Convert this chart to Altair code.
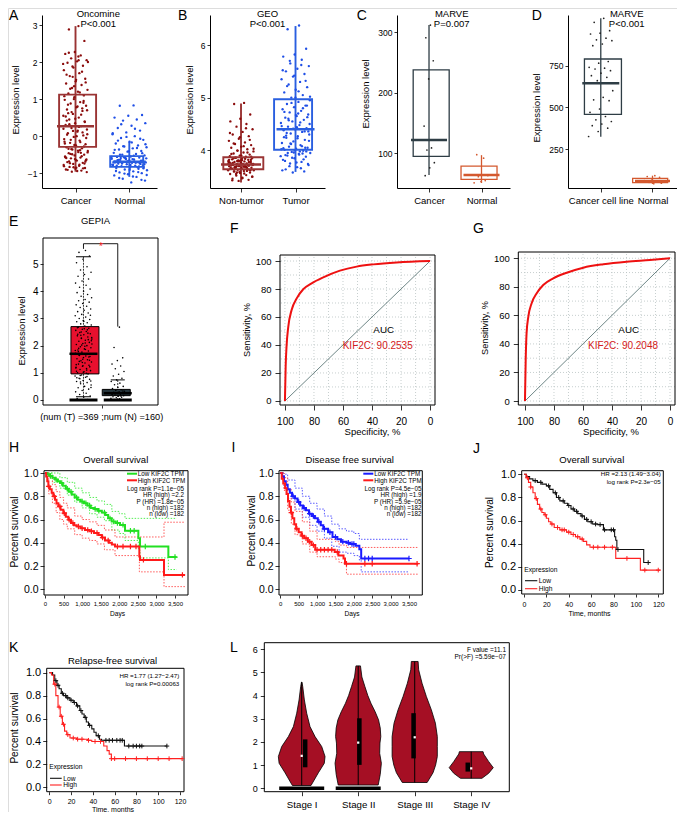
import altair as alt
import pandas as pd

OFF = 8
W, H = 669, 804
FONT = "Liberation Sans"

# ================= DATA =================
# --- A: Oncomine ---
A_groups = ["Cancer", "Normal"]
A_q1 = [-0.29, -0.83]
A_med = [0.27, -0.69]
A_q3 = [1.12, -0.54]
A_lo = [-0.96, -1.10]
A_hi = [2.97, -0.15]
A_cancer = [2.97, 2.88, 2.57, 2.27, 2.22, 2.18, 2.1, 2.05, 2.02, 1.98, 1.9, 1.85, 1.78, 1.7, 1.62,
            1.55, 1.48, 1.42, 1.38, 1.3, 1.25, 1.2, 1.15, 1.1, 1.05, 0.98, 0.92, 0.88, 0.82, 0.78,
            0.72, 0.68, 0.6, 0.55, 0.5, 0.45, 0.4, 0.35, 0.3, 0.27, 0.22, 0.18, 0.12, 0.08, 0.02,
            -0.02, -0.08, -0.12, -0.18, -0.22, -0.25, -0.3, -0.33, -0.36, -0.4, -0.43, -0.46, -0.5,
            -0.52, -0.55, -0.58, -0.6, -0.63, -0.66, -0.7, -0.72, -0.75, -0.78, -0.8, -0.83, -0.86,
            -0.88, -0.9, -0.93, -0.96, 0.05, 0.15, 0.62, 0.95, 1.35, -0.15, -0.38, -0.48, -0.65,
            -0.85, 0.42, 0.75, 1.6, 1.95, 2.05, -0.68, -0.74, -0.62, -0.57, -0.45, -0.35,
            -0.97, -0.94, -0.91, -0.87, -0.84, -0.81, -0.77, -0.73, -0.69, -0.64, -0.59, -0.54,
            -0.49, -0.44, -0.39, -0.34, -0.28, -0.24, -0.2, -0.16, -0.1, -0.05, 0.0, 0.04, 0.1,
            0.14, 0.2, 0.25, 0.32, 0.38, 0.47, 0.53, 0.58, 0.65, 0.7, 0.8, 0.85, 0.9, 1.0, 1.08,
            1.18, 1.28, 1.45, 1.52, 1.66, 1.74, 1.88, 2.0, 2.15, 2.25]
A_normal = [0.83, 0.82, 0.57, 0.55, 0.5, 0.45, 0.42, 0.35, 0.28, 0.22, 0.15, 0.1, 0.05, 0.0, -0.05,
            -0.1, -0.15, -0.2, -0.25, -0.28, -0.3, -0.33, -0.36, -0.4, -0.42, -0.45, -0.48, -0.5,
            -0.52, -0.55, -0.56, -0.58, -0.6, -0.61, -0.63, -0.64, -0.66, -0.67, -0.68, -0.7, -0.7,
            -0.71, -0.72, -0.74, -0.75, -0.76, -0.78, -0.8, -0.81, -0.83, -0.85, -0.86, -0.88, -0.9,
            -0.92, -0.95, -0.98, -1.0, -1.03, -1.06, -1.1, -1.15, -1.2, -1.25, -0.65, -0.73, -0.62,
            -0.77, -0.69, -0.59, -0.79, -0.66, -0.71, -0.84, -0.57,
            -0.6, -0.62, -0.64, -0.66, -0.68, -0.7, -0.72, -0.74, -0.76, -0.78, -0.8, -0.82, -0.58,
            -0.56, -0.53, -0.5, -0.46, -0.41, -0.37, -0.32, -0.27, -0.22, -0.17, -0.12, -0.07,
            -0.02, 0.08, 0.2, 0.32, -0.87, -0.91, -0.94, -0.97, -1.01, -1.05, -1.09, -1.13, -1.18,
            -0.69, -0.71]

# --- B: GEO ---
B_groups = ["Non-tumor", "Tumor"]
B_q1 = [3.64, 4.01]
B_med = [3.73, 4.40]
B_q3 = [3.87, 4.97]
B_lo = [3.39, 3.59]
B_hi = [4.89, 6.36]
B_nontumor = [4.9, 4.88, 4.68, 4.6, 4.55, 4.5, 4.45, 4.4, 4.35, 4.3, 4.27, 4.22, 4.18, 4.15, 4.12,
              4.1, 4.07, 4.05, 4.02, 4.0, 3.98, 3.96, 3.94, 3.92, 3.9, 3.89, 3.88, 3.86, 3.85, 3.84,
              3.83, 3.82, 3.81, 3.8, 3.79, 3.78, 3.77, 3.76, 3.75, 3.75, 3.74, 3.73, 3.73, 3.72, 3.71,
              3.7, 3.7, 3.69, 3.68, 3.67, 3.66, 3.65, 3.64, 3.63, 3.62, 3.61, 3.6, 3.58, 3.57, 3.55,
              3.53, 3.52, 3.5, 3.48, 3.46, 3.44, 3.42, 3.78, 3.72, 3.68, 3.82, 3.76, 3.71, 3.66, 3.8,
              3.74, 3.69, 3.85, 3.63, 3.59, 3.77, 3.7, 3.67, 3.74, 3.81, 3.65, 3.72, 3.79, 3.62, 3.56,
              3.6, 3.62, 3.64, 3.66, 3.68, 3.7, 3.72, 3.74, 3.76, 3.78, 3.8, 3.82, 3.84, 3.86, 3.88,
              3.9, 3.93, 3.96, 3.99, 4.03, 4.08, 4.13, 4.2, 4.25, 4.33, 4.42, 3.55, 3.5, 3.47, 3.43,
              3.71, 3.73, 3.75, 3.69, 3.67, 3.79, 3.81, 3.65, 3.61, 3.58]
B_tumor = [6.37, 6.3, 5.93, 5.82, 5.78, 5.72, 5.65, 5.6, 5.55, 5.5, 5.45, 5.4, 5.35, 5.3, 5.25, 5.2,
           5.15, 5.1, 5.05, 5.0, 4.95, 4.92, 4.88, 4.85, 4.82, 4.78, 4.75, 4.72, 4.68, 4.65, 4.62,
           4.58, 4.55, 4.52, 4.48, 4.45, 4.42, 4.4, 4.38, 4.35, 4.32, 4.3, 4.27, 4.24, 4.2, 4.17,
           4.14, 4.1, 4.07, 4.05, 4.03, 4.01, 3.99, 3.97, 3.95, 3.93, 3.9, 3.88, 3.85, 3.82, 3.78,
           3.75, 3.72, 3.68, 3.64, 3.6, 3.58, 4.02, 3.98, 4.6, 4.85, 5.0, 4.25, 3.94, 4.12, 4.5,
           4.7, 4.33, 4.05, 3.96,
           3.62, 3.66, 3.7, 3.74, 3.77, 3.8, 3.83, 3.86, 3.89, 3.92, 3.95, 3.98, 4.0, 4.04, 4.08,
           4.13, 4.18, 4.23, 4.28, 4.36, 4.41, 4.46, 4.53, 4.57, 4.63, 4.67, 4.73, 4.8, 4.9, 5.02,
           5.12, 5.22, 5.32, 5.42, 5.52, 5.62, 5.7, 4.36, 4.44, 3.91]

# --- C: MARVE ---
C_groups = ["Cancer", "Normal"]
C_q1 = [95, 57]
C_med = [122, 64]
C_q3 = [238, 79]
C_lo = [64, 51]
C_hi = [312, 97]
C_cancer = [312, 291, 253, 223, 145, 109, 105.5, 84.5, 76, 63]
C_normal = [92, 97.7, 63.3, 53.4, 51.3, 55, 61.4]

# --- D: MARVE ---
D_groups = ["Cancer cell line", "Normal"]
D_q1 = [458, 48]
D_med = [644, 58]
D_q3 = [790, 74]
D_lo = [324, 40]
D_hi = [1034, 90]
D_cancer = [1034, 1010, 960, 945, 940, 915, 905, 900, 880, 870, 775, 765, 740, 735, 730, 720, 705,
            690, 680, 660, 600, 560, 545, 540, 490, 470, 445, 425, 415, 400, 390, 375, 355, 325]
D_normal = [90, 85, 80, 70, 60, 55, 50, 45, 42]

# --- E: GEPIA ---
E_q1 = [0.96, 0.16]
E_med = [1.70, 0.25]
E_q3 = [2.70, 0.39]
E_lo = [0.12, 0.0]
E_hi = [5.27, 0.74]
E_tumor = [5.5, 5.43, 5.3, 5.18, 5.05, 4.9, 4.78, 4.7, 4.62, 4.55, 4.45, 4.38, 4.3, 4.22, 4.15, 4.08,
           4.0, 3.95, 3.88, 3.82, 3.76, 3.7, 3.65, 3.6, 3.55, 3.5, 3.45, 3.4, 3.35, 3.3, 3.25, 3.2,
           3.15, 3.1, 3.05, 3.0, 2.96, 2.92, 2.88, 2.84, 2.8, 2.76, 2.72, 2.68, 2.64, 2.6, 2.56,
           2.52, 2.48, 2.44, 2.4, 2.36, 2.32, 2.28, 2.24, 2.2, 2.16, 2.12, 2.08, 2.04, 2.0, 1.96,
           1.92, 1.88, 1.84, 1.8, 1.76, 1.72, 1.68, 1.64, 1.6, 1.56, 1.52, 1.48, 1.44, 1.4, 1.36,
           1.32, 1.28, 1.24, 1.2, 1.16, 1.12, 1.08, 1.04, 1.0, 0.96, 0.92, 0.88, 0.84, 0.8, 0.76,
           0.72, 0.68, 0.64, 0.6, 0.55, 0.5, 0.45, 0.4, 0.35, 0.3, 0.25, 0.2, 0.15, 0.1, 0.05, 0.02,
           2.5, 2.3, 2.1, 1.9, 1.7, 1.5, 1.3, 1.1, 0.9, 0.7, 2.62, 2.42, 2.22, 2.02, 1.82, 1.62,
           1.42, 1.22, 1.02, 0.82, 2.58, 2.38, 2.18, 1.98, 1.78, 1.58, 1.38, 1.18, 0.98, 0.78,
           3.12, 2.9, 2.66, 2.46, 2.26, 2.06, 1.86, 1.66, 1.46, 1.26, 1.06, 0.86, 0.66, 0.46]
E_normal = [2.68, 1.93, 1.55, 1.45, 1.32, 1.25, 1.15, 1.05, 0.95, 0.88, 0.8, 0.74, 0.68, 0.62,
            0.56, 0.5, 0.46, 0.42, 0.38, 0.35, 0.32, 0.3, 0.28, 0.26, 0.24, 0.22, 0.2, 0.18, 0.16,
            0.14, 0.12, 0.1, 0.08, 0.06, 0.04, 0.02, 0.33, 0.27, 0.21, 0.15]
E_zero_groups = [1, 2]
E_bracket_x = [1, 1, 2, 2]
E_bracket_y = [5.56, 5.75, 5.75, 2.70]

# --- F / G: ROC ---
F_spec = [100, 99.5, 98.9, 97.7, 95.4, 91.9, 87.4, 81.6, 73.6, 62.1, 50.6, 39.1, 23.0, 0]
F_sens = [0, 24.5, 38.8, 53.0, 65.0, 73.3, 79.8, 84.0, 88.3, 93.1, 96.0, 97.6, 99.0, 100]
G_spec = [100, 99.5, 98.9, 97.7, 95.4, 91.9, 87.4, 80.5, 71.2, 59.8, 46.0, 29.9, 13.8, 0]
G_sens = [0, 28.7, 47.4, 59.0, 68.5, 75.5, 81.3, 86.0, 89.9, 93.4, 95.8, 97.6, 98.8, 100]
ROC_grid = [0, 10, 20, 30, 40, 50, 60, 70, 80, 90, 100]

# --- H: GEPIA overall survival ---
H_low_t = [0, 60, 130, 200, 270, 340, 404, 480, 560, 640, 720, 800, 880, 960, 1050, 1140, 1230,
           1330, 1430, 1530, 1620, 1700, 1795, 1900, 2020, 2154, 2513, 2558, 3321, 3546]
H_low_s = [1.0, 0.99, 0.975, 0.96, 0.945, 0.93, 0.914, 0.89, 0.865, 0.84, 0.815, 0.79, 0.77, 0.755,
           0.74, 0.72, 0.70, 0.69, 0.675, 0.66, 0.64, 0.61, 0.583, 0.57, 0.554, 0.503, 0.44, 0.368,
           0.277, 0.277]
H_high_t = [0, 30, 60, 90, 130, 180, 224, 270, 310, 359, 420, 494, 560, 628, 700, 780, 853, 960,
            1077, 1200, 1320, 1436, 1530, 1616, 1720, 1800, 1885, 2540, 2558, 3204, 3770]
H_high_s = [1.0, 0.97, 0.93, 0.885, 0.86, 0.83, 0.80, 0.77, 0.74, 0.713, 0.685, 0.655, 0.625, 0.598,
            0.57, 0.55, 0.54, 0.525, 0.511, 0.50, 0.485, 0.468, 0.445, 0.42, 0.40, 0.385, 0.368,
            0.282, 0.253, 0.124, 0.124]
H_low_cens = [150, 300, 450, 600, 700, 850, 1000, 1100, 1200, 1350, 1450, 1600, 1750, 1850, 1950,
              2100, 2300, 2400, 2700, 3500]
H_high_cens = [100, 250, 400, 520, 650, 750, 900, 1000, 1150, 1250, 1400, 1550, 1700, 1950, 2100,
               2300, 2450, 2650, 3700]
H_lowCI_t = [0, 200, 400, 600, 800, 1000, 1200, 1400, 1600, 1800, 2000, 2154, 2513, 2558, 3321, 3546]
H_lowCI_up = [1.0, 1.0, 0.96, 0.92, 0.87, 0.83, 0.79, 0.76, 0.73, 0.67, 0.65, 0.61, 0.61, 0.61, 0.61, 0.61]
H_lowCI_lo = [1.0, 0.92, 0.87, 0.81, 0.75, 0.70, 0.65, 0.62, 0.59, 0.51, 0.48, 0.42, 0.34, 0.27, 0.17, 0.17]
H_highCI_t = [0, 100, 200, 300, 400, 500, 600, 800, 1000, 1200, 1400, 1600, 1885, 2540, 3204, 3770]
H_highCI_up = [1.0, 0.96, 0.90, 0.84, 0.79, 0.74, 0.70, 0.63, 0.60, 0.58, 0.55, 0.51, 0.45, 0.45, 0.577, 0.577]
H_highCI_lo = [1.0, 0.82, 0.74, 0.66, 0.60, 0.56, 0.52, 0.47, 0.44, 0.42, 0.39, 0.34, 0.29, 0.15, 0.023, 0.023]

# --- I: GEPIA disease free survival ---
I_low_t = [0, 50, 100, 150, 200, 260, 320, 400, 470, 540, 620, 700, 780, 860, 940, 1020, 1100, 1170,
           1300, 1420, 1550, 1650, 1800, 1900, 2050, 2150, 2200, 3500]
I_low_s = [1.0, 0.97, 0.93, 0.90, 0.86, 0.83, 0.80, 0.78, 0.75, 0.72, 0.70, 0.68, 0.65, 0.63, 0.61,
           0.58, 0.55, 0.52, 0.49, 0.45, 0.43, 0.41, 0.40, 0.39, 0.375, 0.345, 0.265, 0.265]
I_high_t = [0, 40, 80, 130, 170, 210, 250, 290, 330, 380, 430, 500, 580, 650, 750, 850, 950, 1480,
            1580, 1720, 1760, 3750]
I_high_s = [1.0, 0.95, 0.91, 0.87, 0.82, 0.76, 0.71, 0.66, 0.61, 0.56, 0.52, 0.49, 0.46, 0.44, 0.41,
            0.38, 0.34, 0.32, 0.29, 0.265, 0.22, 0.22]
I_low_cens = [350, 500, 650, 800, 900, 1050, 1200, 1350, 1500, 1700, 1850, 1950, 2000, 2300, 2400,
              2500, 3500]
I_high_cens = [300, 450, 600, 700, 800, 900, 1000, 1100, 1200, 1300, 1400, 1550, 1800, 2300, 2500, 3720]
I_lowCI_t = [0, 100, 200, 400, 600, 800, 1000, 1200, 1400, 1600, 1800, 2000, 2150, 2200, 3500]
I_lowCI_up = [1.0, 0.99, 0.94, 0.87, 0.80, 0.74, 0.69, 0.63, 0.56, 0.52, 0.50, 0.48, 0.43, 0.43, 0.43]
I_lowCI_lo = [1.0, 0.87, 0.78, 0.69, 0.62, 0.55, 0.50, 0.44, 0.37, 0.32, 0.31, 0.29, 0.25, 0.15, 0.15]
I_highCI_t = [0, 100, 200, 300, 400, 600, 800, 1000, 1500, 1600, 1800, 3750]
I_highCI_up = [1.0, 0.96, 0.86, 0.75, 0.67, 0.58, 0.50, 0.43, 0.41, 0.38, 0.36, 0.36]
I_highCI_lo = [1.0, 0.85, 0.68, 0.56, 0.47, 0.39, 0.32, 0.28, 0.26, 0.23, 0.13, 0.13]

# --- J: KM overall survival ---
J_low_t = [0, 2, 5, 8, 12, 16, 20, 23, 26, 29, 32, 36, 39, 42, 45, 48, 51, 54, 57, 61, 66, 71, 81,
           82, 83, 107, 113]
J_low_s = [1.0, 0.98, 0.96, 0.945, 0.93, 0.915, 0.90, 0.87, 0.84, 0.80, 0.77, 0.75, 0.73, 0.70,
           0.68, 0.66, 0.64, 0.61, 0.59, 0.57, 0.565, 0.52, 0.46, 0.43, 0.35, 0.237, 0.237]
J_high_t = [0, 2, 4, 6, 8, 10, 12, 14, 16, 18, 20, 22, 24, 27, 32, 38, 42, 46, 50, 53, 56, 59, 82,
            104, 122]
J_high_s = [1.0, 0.97, 0.93, 0.89, 0.84, 0.79, 0.74, 0.70, 0.67, 0.65, 0.62, 0.59, 0.57, 0.54, 0.52,
            0.50, 0.48, 0.46, 0.44, 0.42, 0.39, 0.37, 0.273, 0.172, 0.172]
J_low_cens = [10, 15, 22, 28, 31, 35, 40, 44, 47, 52, 56, 60, 64, 68, 72, 78, 80, 84, 111]
J_high_cens = [3, 6, 11, 15, 19, 25, 30, 34, 36, 40, 44, 48, 52, 62, 66, 72, 79, 92, 108, 120]

# --- K: KM relapse-free survival ---
K_low_t = [0, 3, 5, 7, 9, 11, 13, 16, 19, 22, 25, 28, 30, 32, 34, 36, 39, 41, 43, 46, 48, 69, 108]
K_low_s = [1.0, 0.98, 0.93, 0.89, 0.86, 0.82, 0.80, 0.78, 0.76, 0.74, 0.71, 0.67, 0.64, 0.61, 0.57,
           0.54, 0.51, 0.48, 0.45, 0.42, 0.41, 0.36, 0.36]
K_high_t = [0, 2, 4, 6, 8, 10, 12, 14, 16, 19, 25, 35, 39, 50, 53, 55, 57, 122]
K_high_s = [1.0, 0.98, 0.90, 0.80, 0.70, 0.62, 0.55, 0.49, 0.46, 0.43, 0.42, 0.41, 0.40, 0.36,
            0.32, 0.29, 0.25, 0.25]
K_low_cens = [6, 8, 12, 15, 17, 20, 23, 26, 29, 33, 37, 45, 52, 55, 58, 62, 65, 67, 73, 77, 80, 83,
              85, 108]
K_high_cens = [5, 9, 11, 13, 17, 22, 26, 30, 36, 42, 47, 57, 60, 70, 80, 90, 100, 110, 122]

# --- L: violin by stage ---
L_stages = ["Stage I", "Stage II", "Stage III", "Stage IV"]
L1_y = [0.12, 0.67, 1.08, 1.37, 1.8, 2.23, 2.66, 3.24, 3.81, 4.39, 4.58]
L1_hw = [0.165, 0.295, 0.40, 0.413, 0.354, 0.236, 0.147, 0.088, 0.047, 0.018, 0.004]
L2_y = [0.14, 0.6, 1.08, 1.51, 1.95, 2.23, 2.6, 2.95, 3.3, 3.67, 4.0, 4.39, 4.8, 5.28]
L2_hw = [0.354, 0.39, 0.41, 0.38, 0.385, 0.40, 0.39, 0.36, 0.30, 0.225, 0.17, 0.118, 0.065, 0.04]
L3_y = [0.25, 0.67, 1.0, 1.37, 1.8, 2.23, 2.81, 3.38, 3.96, 4.53, 5.11, 5.47]
L3_hw = [0.22, 0.324, 0.37, 0.40, 0.40, 0.40, 0.366, 0.295, 0.206, 0.13, 0.07, 0.06]
L4_y = [0.43, 0.65, 0.89, 1.15, 1.48, 1.58]
L4_hw = [0.19, 0.31, 0.39, 0.31, 0.22, 0.21]
L_q1 = [0.906, 1.01, 1.29, 0.72]
L_med = [1.40, 1.97, 2.20, 0.86]
L_q3 = [2.11, 3.02, 3.24, 1.11]
L_lo = [0.12, 0.14, 0.25, 0.43]
L_hi = [4.58, 5.28, 5.47, 1.58]
L_zero_stages = [1, 2]

# ================= LAYOUT (page pixels) =================
GEOM = {
    "A": dict(xd=[0.377, 2.515], xr=[42, 157], yd=[-1.4, 3.27], yr=[188, 15]),
    "B": dict(xd=[0.431, 2.541], xr=[210, 325], yd=[3.285, 6.57], yr=[188, 15]),
    "C": dict(xd=[0.39, 2.543], xr=[397, 510], yd=[42.7, 328.6], yr=[188, 15]),
    "D": dict(xd=[0.366, 2.59], xr=[568, 683], yd=[16, 1054], yr=[188, 15]),
    "E": dict(xd=[-0.181, 3.174], xr=[43, 158], yd=[-0.184, 5.96], yr=[405, 238]),
    "F": dict(xd=[-3.4, 103.4], xr=[435, 280], yd=[-2.9, 104.3], yr=[405, 255]),
    "G": dict(xd=[-3.45, 104.6], xr=[675, 518.3], yd=[-2.8, 104.4], yr=[405, 252]),
    "H": dict(xd=[-27, 3850], xr=[44, 188], yd=[-0.049, 1.02], yr=[595, 470.7]),
    "I": dict(xd=[-35, 3862], xr=[279, 422.3], yd=[-0.049, 1.02], yr=[595, 470.7]),
    "J": dict(xd=[-2.05, 124.5], xr=[521.7, 663.3], yd=[-0.0346, 1.031], yr=[594, 470.7]),
    "K": dict(xd=[-2.4, 123.7], xr=[46.7, 184], yd=[-0.038, 1.038], yr=[791.7, 668.3]),
    "L": dict(xd=[0.338, 4.674], xr=[264.3, 509.3], yd=[-0.147, 6.28], yr=[791.7, 642.7]),
}


def scale(p, ch):
    g = GEOM[p]
    dom = g[ch + "d"]
    rng = [r - OFF for r in g[ch + "r"]]
    return alt.Scale(domain=dom, range=rng, nice=False, zero=False)


def XE(p, f, axis=None):
    return alt.X(f, type="quantitative", scale=scale(p, "x"), axis=axis)


def YE(p, f, axis=None):
    return alt.Y(f, type="quantitative", scale=scale(p, "y"), axis=axis)


def ppu(p):
    g = GEOM[p]
    return abs(g["xr"][1] - g["xr"][0]) / abs(g["xd"][1] - g["xd"][0])


def axis_kw(size, tick, pad, domain, fmt, lexpr):
    kw = dict(title=None, grid=False, labelFont=FONT, labelFontSize=size, labelColor="black",
              tickColor="black", tickSize=tick, tickWidth=0.8, labelPadding=pad, domain=domain,
              domainColor="black", domainWidth=1, labelFlush=False, labelOverlap=False)
    if fmt:
        kw["format"] = fmt
    if lexpr:
        kw["labelExpr"] = lexpr
    return kw


def ax_left(p, values, size, tick=3, pad=2, domain=False, fmt=None, lexpr=None):
    x0 = min(GEOM[p]["xr"]) - OFF
    return alt.Axis(orient="left", offset=-x0, values=values, **axis_kw(size, tick, pad, domain, fmt, lexpr))


def ax_bottom(p, values, size, tick=3, pad=2, domain=False, fmt=None, lexpr=None, labels=True):
    y0 = max(GEOM[p]["yr"]) - OFF
    kw = axis_kw(size, tick, pad, domain, fmt, lexpr)
    kw["labels"] = labels
    return alt.Axis(orient="bottom", offset=y0 - H, values=values, **kw)


def frame(p, xaxis=None, yaxis=None, visible=True):
    g = GEOM[p]
    df = pd.DataFrame({"x0": [g["xd"][0]], "x1": [g["xd"][1]], "y0": [g["yd"][0]], "y1": [g["yd"][1]]})
    m = alt.Chart(df).mark_rect(fillOpacity=0, stroke="black", strokeWidth=1,
                                strokeOpacity=1 if visible else 0)
    return m.encode(x=XE(p, "x0", xaxis), x2=alt.X2("x1"), y=YE(p, "y0", yaxis), y2=alt.Y2("y1"))


def box(p, gi, q1, med, q3, lo, hi, width, stroke, fill=None, sw=1.5, medw=2.5, medcolor=None):
    df = pd.DataFrame({"g": [gi], "q1": [q1], "med": [med], "q3": [q3], "lo": [lo], "hi": [hi]})
    base = alt.Chart(df)
    whisk = base.mark_rule(color=stroke, strokeWidth=sw).encode(x=XE(p, "g"), y=YE(p, "lo"), y2=alt.Y2("hi"))
    if fill:
        b = base.mark_bar(size=width, fill=fill, stroke=stroke, strokeWidth=sw)
    else:
        b = base.mark_bar(size=width, fillOpacity=0, stroke=stroke, strokeWidth=sw)
    b = b.encode(x=XE(p, "g"), y=YE(p, "q1"), y2=alt.Y2("q3"))
    m = base.mark_tick(orient="horizontal", size=width, thickness=medw, opacity=1,
                       color=medcolor or stroke).encode(x=XE(p, "g"), y=YE(p, "med"))
    return whisk, b, m


def pts(p, gi, values, half_px, color, size=5):
    spread = 2 * half_px / ppu(p)
    df = pd.DataFrame({"g": [gi] * len(values), "v": values})
    return (alt.Chart(df)
            .transform_window(i="row_number()")
            .transform_calculate(jx=f"datum.g + {spread:.5f}*(((datum.i*0.6180339887) % 1) - 0.5)")
            .mark_circle(size=size, color=color, opacity=1)
            .encode(x=XE(p, "jx"), y=YE(p, "v")))


def step(p, t, s, color, width, dash=None):
    df = pd.DataFrame({"t": t, "s": s})
    kw = dict(interpolate="step-after", color=color, strokeWidth=width)
    if dash:
        kw["strokeDash"] = dash
    return alt.Chart(df).mark_line(**kw).encode(x=XE(p, "t"), y=YE(p, "s"))


def step_at(ts, ss, c):
    v = ss[0]
    for t, s in zip(ts, ss):
        if t <= c:
            v = s
    return v


PLUS = "M-1,0L1,0M0,-1L0,1"


def censor(p, ts, ss, cens, color, size=25, sw=1):
    df = pd.DataFrame({"t": cens, "s": [step_at(ts, ss, c) for c in cens]})
    return alt.Chart(df).mark_point(shape=PLUS, size=size, filled=False, color=color,
                                    strokeWidth=sw, opacity=1).encode(x=XE(p, "t"), y=YE(p, "s"))


def txt(s, x, y, size=9.5, align="center", color="black", angle=0, baseline="alphabetic"):
    return (alt.Chart(pd.DataFrame({"t": [s]}))
            .mark_text(align=align, baseline=baseline, fontSize=size, font=FONT, color=color, angle=angle)
            .encode(x=alt.value(x - OFF), y=alt.value(y - OFF), text="t:N"))


def vtxt(s, x, y, size=9.5):
    return txt(s, x, y, size=size, angle=270, baseline="middle")


def seg(x1, x2, y, color, width=1.5):
    return (alt.Chart(pd.DataFrame({"a": [0]})).mark_rule(color=color, strokeWidth=width)
            .encode(x=alt.value(x1 - OFF), x2=alt.value(x2 - OFF), y=alt.value(y - OFF)))


def cat_expr(groups):
    arr = ",".join("'" + g + "'" for g in groups)
    return f"[{arr}][datum.value - 1]"


layers = []

# ---------- colour constants ----------
RED_BOX, RED_PT = "#9a3434", "#8b0c0c"
BLUE_BOX, BLUE_PT = "#2a5fe0", "#1f4fe6"
SLATE, ORANGE = "#2e3d45", "#d4592f"

# ---------- A ----------
layers.append(frame("A", ax_bottom("A", [1, 2], 9.5, tick=4, pad=3, domain=True, lexpr=cat_expr(A_groups)),
                    ax_left("A", [-1, 0, 1, 2, 3], 8.5, tick=3, pad=2, domain=True), visible=False))
w, b, m = box("A", 1, A_q1[0], A_med[0], A_q3[0], A_lo[0], A_hi[0], 37, RED_BOX, sw=1.9)
layers += [w, pts("A", 1, A_cancer, 12.5, RED_PT, 5.5), b, m]
w, b, m = box("A", 2, A_q1[1], A_med[1], A_q3[1], A_lo[1], A_hi[1], 33, BLUE_BOX, sw=1.9)
layers += [w, pts("A", 2, A_normal, 18, BLUE_PT, 5.5), b, m]

# ---------- B ----------
layers.append(frame("B", ax_bottom("B", [1, 2], 9.5, tick=4, pad=3, domain=True, lexpr=cat_expr(B_groups)),
                    ax_left("B", [4, 5, 6], 8.5, tick=3, pad=2, domain=True), visible=False))
w, b, m = box("B", 1, B_q1[0], B_med[0], B_q3[0], B_lo[0], B_hi[0], 40, RED_BOX, sw=1.9)
layers += [w, pts("B", 1, B_nontumor, 13, RED_PT, 5.5), b, m]
w, b, m = box("B", 2, B_q1[1], B_med[1], B_q3[1], B_lo[1], B_hi[1], 38, BLUE_BOX, sw=1.9)
layers += [w, pts("B", 2, B_tumor, 15, BLUE_PT, 5.5), b, m]

# ---------- C ----------
layers.append(frame("C", ax_bottom("C", [1, 2], 9.5, tick=4, pad=3, domain=True, lexpr=cat_expr(C_groups)),
                    ax_left("C", [100, 200, 300], 8.5, tick=3, pad=2, domain=True), visible=False))
w, b, m = box("C", 1, C_q1[0], C_med[0], C_q3[0], C_lo[0], C_hi[0], 36, SLATE, sw=1.3)
layers += [w, b, m, pts("C", 1, C_cancer, 6, "#222222", 3)]
w, b, m = box("C", 2, C_q1[1], C_med[1], C_q3[1], C_lo[1], C_hi[1], 36, ORANGE, sw=1.3)
layers += [w, b, m, pts("C", 2, C_normal, 9, ORANGE, 3)]

# ---------- D ----------
layers.append(frame("D", ax_bottom("D", [1, 2], 9.5, tick=4, pad=3, domain=True, lexpr=cat_expr(D_groups)),
                    ax_left("D", [250, 500, 750], 8.5, tick=3, pad=2, domain=True), visible=False))
w, b, m = box("D", 1, D_q1[0], D_med[0], D_q3[0], D_lo[0], D_hi[0], 37, SLATE, sw=1.3)
layers += [w, b, m, pts("D", 1, D_cancer, 12.5, "#222222", 3)]
w, b, m = box("D", 2, D_q1[1], D_med[1], D_q3[1], D_lo[1], D_hi[1], 35, ORANGE, sw=1.3)
layers += [w, b, m, pts("D", 2, D_normal, 10, ORANGE, 3)]

# ---------- E ----------
layers.append(frame("E", ax_bottom("E", [1.53], 9, tick=3, labels=False),
                    ax_left("E", [0, 1, 2, 3, 4, 5], 10, tick=3, pad=2)))
for gi, col, wd, cap, vals, half in [(1, "#e8102e", 28, 15, E_tumor, 8.5), (2, "#26363d", 28, 14, E_normal, 7)]:
    i = gi - 1
    df = pd.DataFrame({"g": [gi], "q1": [E_q1[i]], "med": [E_med[i]], "q3": [E_q3[i]],
                       "lo": [E_lo[i]], "hi": [E_hi[i]]})
    base = alt.Chart(df)
    layers.append(base.mark_rule(color="black", strokeWidth=0.8, strokeDash=[2, 1])
                  .encode(x=XE("E", "g"), y=YE("E", "lo"), y2=alt.Y2("hi")))
    layers.append(base.mark_tick(orient="horizontal", size=cap, thickness=1, color="black", opacity=1)
                  .encode(x=XE("E", "g"), y=YE("E", "hi")))
    layers.append(base.mark_tick(orient="horizontal", size=cap, thickness=1, color="black", opacity=1)
                  .encode(x=XE("E", "g"), y=YE("E", "lo")))
    layers.append(base.mark_bar(size=wd, fill=col, stroke="black", strokeWidth=1)
                  .encode(x=XE("E", "g"), y=YE("E", "q1"), y2=alt.Y2("q3")))
    layers.append(pts("E", gi, vals, half, "black", 2.5))
    layers.append(base.mark_tick(orient="horizontal", size=wd, thickness=2.5, color="black", opacity=1)
                  .encode(x=XE("E", "g"), y=YE("E", "med")))
layers.append(alt.Chart(pd.DataFrame({"g": E_zero_groups, "v": [0, 0]}))
              .mark_tick(orient="horizontal", size=28, thickness=3, color="black", opacity=1)
              .encode(x=XE("E", "g"), y=YE("E", "v")))
layers.append(alt.Chart(pd.DataFrame({"x": E_bracket_x, "y": E_bracket_y, "o": [0, 1, 2, 3]}))
              .mark_line(color="black", strokeWidth=0.9)
              .encode(x=XE("E", "x"), y=YE("E", "y"), order=alt.Order("o:Q")))
layers.append(txt("*", 101, 250, size=10, color="#ff2020"))

# ---------- F, G ROC ----------
for p, spec, sens in [("F", F_spec, F_sens), ("G", G_spec, G_sens)]:
    g = GEOM[p]
    gdf = pd.DataFrame({"v": ROC_grid, "lo": [g["yd"][0]] * len(ROC_grid), "hi": [g["yd"][1]] * len(ROC_grid),
                        "xlo": [g["xd"][0]] * len(ROC_grid), "xhi": [g["xd"][1]] * len(ROC_grid)})
    layers.append(alt.Chart(gdf).mark_rule(color="#b9c3c3", strokeWidth=0.8, strokeDash=[1, 2])
                  .encode(x=XE(p, "v"), y=YE(p, "lo"), y2=alt.Y2("hi")))
    layers.append(alt.Chart(gdf).mark_rule(color="#b9c3c3", strokeWidth=0.8, strokeDash=[1, 2])
                  .encode(y=YE(p, "v"), x=XE(p, "xlo"), x2=alt.X2("xhi")))
    layers.append(frame(p, ax_bottom(p, [0, 20, 40, 60, 80, 100], 10, tick=5, pad=6),
                        ax_left(p, [0, 20, 40, 60, 80, 100], 9.5, tick=5, pad=4)))
    layers.append(alt.Chart(pd.DataFrame({"x": [100], "y": [0], "x2": [0], "y2": [100]}))
                  .mark_rule(color="#5e7878", strokeWidth=0.9)
                  .encode(x=XE(p, "x"), y=YE(p, "y"), x2=alt.X2("x2"), y2=alt.Y2("y2")))
    layers.append(alt.Chart(pd.DataFrame({"spec": spec, "sens": sens}))
                  .mark_line(color="#ee1111", strokeWidth=2, interpolate="monotone")
                  .encode(x=XE(p, "spec"), y=YE(p, "sens")))

# ---------- H, I survival (GEPIA) ----------
for p, lt, ls, ht, hs, lc, hc, lct, lcu, lcl, hct, hcu, hcl, lowcol, lowci in [
    ("H", H_low_t, H_low_s, H_high_t, H_high_s, H_low_cens, H_high_cens,
     H_lowCI_t, H_lowCI_up, H_lowCI_lo, H_highCI_t, H_highCI_up, H_highCI_lo, "#22e022", "#55ee55"),
    ("I", I_low_t, I_low_s, I_high_t, I_high_s, I_low_cens, I_high_cens,
     I_lowCI_t, I_lowCI_up, I_lowCI_lo, I_highCI_t, I_highCI_up, I_highCI_lo, "#1a1aff", "#5a5aff"),
]:
    layers.append(frame(p, ax_bottom(p, [0, 500, 1000, 1500, 2000, 2500, 3000, 3500], 6, tick=3, pad=2),
                        ax_left(p, [0, 0.2, 0.4, 0.6, 0.8, 1.0], 10.5, tick=4, pad=2, fmt=".1f")))
    for ct, cv, col in [(lct, lcu, lowci), (lct, lcl, lowci), (hct, hcu, "#ff5a5a"), (hct, hcl, "#ff5a5a")]:
        layers.append(step(p, ct, cv, col, 1, dash=[1.5, 1.5]))
    layers.append(step(p, lt, ls, lowcol, 2))
    layers.append(step(p, ht, hs, "#ff1a1a", 2))
    layers.append(censor(p, lt, ls, lc, lowcol, size=30, sw=1.2))
    layers.append(censor(p, ht, hs, hc, "#ff1a1a", size=30, sw=1.2))

# ---------- J, K survival (KM plotter) ----------
for p, lt, ls, ht, hs, lc, hc, xs in [
    ("J", J_low_t, J_low_s, J_high_t, J_high_s, J_low_cens, J_high_cens, 7),
    ("K", K_low_t, K_low_s, K_high_t, K_high_s, K_low_cens, K_high_cens, 7),
]:
    layers.append(frame(p, ax_bottom(p, [0, 20, 40, 60, 80, 100, 120], xs, tick=3, pad=3),
                        ax_left(p, [0, 0.2, 0.4, 0.6, 0.8, 1.0], 11, tick=4, pad=2, fmt=".1f")))
    layers.append(step(p, lt, ls, "#111111", 1.1))
    layers.append(step(p, ht, hs, "#ff2020", 1.1))
    layers.append(censor(p, lt, ls, lc, "#111111", size=22, sw=1))
    layers.append(censor(p, ht, hs, hc, "#ff2020", size=22, sw=1))

# ---------- L violins ----------
vrows = []
for si, (ys, hws) in enumerate([(L1_y, L1_hw), (L2_y, L2_hw), (L3_y, L3_hw), (L4_y, L4_hw)]):
    for yv, hw in zip(ys, hws):
        vrows.append({"stage": si + 1, "y": yv, "hw": hw})
vdf = pd.DataFrame(vrows)
layers.append(frame("L", ax_bottom("L", [1, 2, 3, 4], 9.7, tick=4, pad=4, lexpr=cat_expr(L_stages)),
                    ax_left("L", [0, 1, 2, 3, 4, 5, 6], 9, tick=4, pad=3)))
layers.append(alt.Chart(vdf)
              .transform_calculate(xl="datum.stage - datum.hw", xr="datum.stage + datum.hw")
              .mark_area(orient="horizontal", color="#a50f24", stroke="black", strokeWidth=0.8, opacity=1)
              .encode(y=YE("L", "y"), x=XE("L", "xl"), x2=alt.X2("xr"), detail="stage:N"))
ldf = pd.DataFrame({"g": [1, 2, 3, 4], "q1": L_q1, "med": L_med, "q3": L_q3, "lo": L_lo, "hi": L_hi})
layers.append(alt.Chart(ldf).mark_rule(color="black", strokeWidth=1)
              .encode(x=XE("L", "g"), y=YE("L", "lo"), y2=alt.Y2("hi")))
layers.append(alt.Chart(ldf).mark_bar(size=4.5, color="black")
              .encode(x=XE("L", "g"), y=YE("L", "q1"), y2=alt.Y2("q3")))
layers.append(alt.Chart(ldf).mark_square(size=5, color="white", opacity=1)
              .encode(x=XE("L", "g"), y=YE("L", "med")))
layers.append(alt.Chart(pd.DataFrame({"g": L_zero_stages, "v": [0, 0]}))
              .mark_tick(orient="horizontal", size=45, thickness=3.5, color="black", opacity=1)
              .encode(x=XE("L", "g"), y=YE("L", "v")))

# ================= TEXT =================
# panel letters
for s, x, y in [("A", 9, 19.5), ("B", 178, 19.5), ("C", 356.7, 19.5), ("D", 531.7, 19.5),
                ("E", 9, 225.5), ("F", 230, 233.3), ("G", 473, 233.3),
                ("H", 9, 452), ("I", 231.5, 452), ("J", 473, 453), ("K", 9, 651.7), ("L", 230, 652)]:
    layers.append(txt(s, x, y, size=14, align="left"))

# titles
for s, x, y in [("Oncomine", 98.3, 17), ("P<0.001", 98.3, 26.5),
                ("GEO", 267.5, 17), ("P<0.001", 267.5, 26.5),
                ("MARVE", 451.7, 17), ("P=0.007", 451.7, 26.5),
                ("MARVE", 626.7, 17), ("P<0.001", 626.7, 26.5),
                ("GEPIA", 95.5, 223.5),
                ("Overall survival", 115.8, 463), ("Disease free survival", 349.7, 463),
                ("Overall survival", 591.8, 463), ("Relapse-free survival", 112.5, 663.5)]:
    layers.append(txt(s, x, y, size=9.5))

# y-axis titles
for s, x, y, sz in [("Expression level", 16, 100, 9.5), ("Expression level", 190, 100, 9.5),
                    ("Expression level", 365.5, 94, 9.5), ("Expression level", 537, 108, 9.5),
                    ("Expression level", 21.5, 331, 9.5),
                    ("Sensitivity, %", 246.5, 330, 9.2), ("Sensitivity, %", 484.5, 328, 9.2),
                    ("Percent survival", 15, 532, 10), ("Percent survival", 251.5, 531, 10),
                    ("Percent survival", 490, 532.5, 10), ("Percent survival", 15, 728, 10)]:
    layers.append(vtxt(s, x, y, sz))

# x-axis titles
for s, x, y, sz in [("(num (T) =369 ;num (N) =160)", 101.7, 420, 9.2),
                    ("Specificity, %", 372.5, 434.5, 9.5), ("Specificity, %", 611, 434.5, 9.5),
                    ("Days", 117.5, 616, 6.6), ("Days", 352, 616, 6.6),
                    ("Time, months", 589.5, 616, 7), ("Time, months", 113, 811.5, 7)]:
    layers.append(txt(s, x, y, size=sz))

# AUC annotations
for x1, x2, s in [(383.7, 377.7, "KIF2C: 90.2535"), (628.7, 623, "KIF2C: 90.2048")]:
    layers.append(txt("AUC", x1, 333, size=9.8))
    layers.append(txt(s, x2, 348.5, size=10, color="#d42020"))

# H / I legends and stats
for (lx1, lx2, tx, rx, lowcol, lr, hr, ph, lowlab) in [
    (127, 137, 137.8, 184, "#22e022", "1.1e\u221205", "2.2", "1.8e\u221205", "Low KIF2C TPM"),
    (363.3, 373.3, 374.2, 421.5, "#1a1aff", "4.5e\u221205", "1.9", "5.9e\u221205", "Low KIF2C TPM"),
]:
    layers.append(seg(lx1, lx2, 473.7, lowcol, 2))
    layers.append(seg(lx1, lx2, 480.3, "#ff1a1a", 2))
    layers.append(txt(lowlab, tx, 476, size=6.3, align="left"))
    layers.append(txt("High KIF2C TPM", tx, 482.7, size=6.3, align="left"))
    for s, y in [("Log rank P=" + lr, 490.5), ("HR (high) =" + hr, 497.2), ("P (HR) =" + ph, 503.5),
                 ("n (high) =182", 510), ("n (low) =182", 516)]:
        layers.append(txt(s, rx, y, size=6.3, align="right"))

# J / K stats and legends
for rx, y1, s1, s2, ex, ey, l1, l2, ly1, ly2 in [
    (660.7, 475.7, "HR =2.13 (1.49\u22123.04)", "log rank P=2.3e\u221205", 524.3, 571.5, 525, 537.3, 580.7, 588.7),
    (179.3, 678, "HR =1.77 (1.27\u22122.47)", "log rank P=0.00063", 49.3, 769, 50, 61.7, 778.3, 785),
]:
    layers.append(txt(s1, rx, y1, size=6.2, align="right"))
    layers.append(txt(s2, rx, y1 + 8.3, size=6.2, align="right"))
    layers.append(txt("Expression", ex, ey, size=6.7, align="left"))
    layers.append(seg(l1, l2, ly1, "#111111", 1.1))
    layers.append(seg(l1, l2, ly2, "#ff2020", 1.1))
    layers.append(txt("Low", l2 + 1.5, ly1 + 2.3, size=6.7, align="left"))
    layers.append(txt("High", l2 + 1.5, ly2 + 2.3, size=6.7, align="left"))

# L stats
layers.append(txt("F value =11.1", 506, 652, size=6.5, align="right"))
layers.append(txt("Pr(>F) =5.59e\u221207", 506, 659, size=6.5, align="right"))

chart = (alt.layer(*layers)
         .resolve_scale(x="independent", y="independent")
         .properties(width=W, height=H, padding=0, autosize="none")
         .configure_view(stroke=None)
         .configure(background="white", font=FONT))

chart.save("out.html", embed_options={"renderer": "svg", "actions": False})
